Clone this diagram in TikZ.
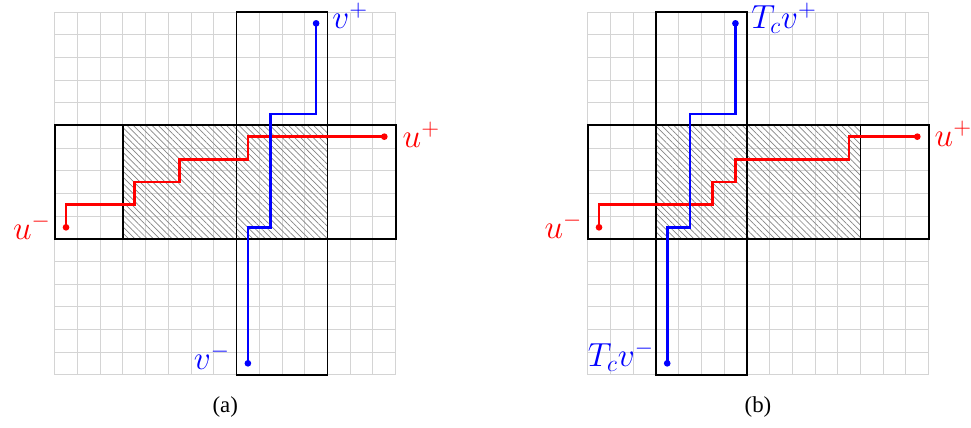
\documentclass[tikz,border=0pt]{standalone}
\usepackage{fix-cm}
\usepackage[no-math]{fontspec}
\setmainfont{Liberation Serif}
\usetikzlibrary{patterns.meta}
\tikzset{
  gridline/.style={draw=black!17, line width=0.55pt},
  box/.style={draw=black, line width=1pt},
  hatch/.style={pattern={Lines[angle=-45,distance=2.5pt,line width=0.4pt]}, pattern color=black!48},
  rpath/.style={draw=red, line width=1.5pt},
  bpath/.style={draw=blue, line width=1.5pt},
  rdot/.style={circle, fill=red, inner sep=0pt, minimum size=3.8pt},
  bdot/.style={circle, fill=blue, inner sep=0pt, minimum size=3.8pt},
  lab/.style={inner sep=0pt, font=\fontsize{19}{22}\selectfont},
  captext/.style={inner sep=0pt, anchor=base, font=\fontsize{13}{15}\selectfont}
}
\begin{document}
\begin{tikzpicture}
\useasboundingbox (0,0) rectangle (19.42,8.54);
% ---------- panel (a)
\begin{scope}[shift={(1.093cm,1.047cm)}, x=0.4547cm, y=0.4533cm]
  \foreach \i in {0,...,15} \draw[gridline] (\i,0) -- (\i,16);
  \foreach \j in {0,...,16} \draw[gridline] (0,\j) -- (15,\j);
  \draw[box, hatch] (3,6) rectangle (12,11);
  \draw[box] (0,6) rectangle (15,11);
  \draw[box] (8,0) rectangle (12,16);
  \node[rdot] (aum) at (0.5,6.5) {};
  \node[rdot] (aup) at (14.5,10.5) {};
  \node[bdot] (avp) at (11.5,15.5) {};
  \node[bdot] (avm) at (8.5,0.5) {};
  \draw[rpath] (aum.center) |- (3.5,7.5) |- (5.5,8.5) |- (8.5,9.5) |- (aup.center);
  \draw[bpath] (avp.center) |- (9.5,11.5) |- (8.5,6.5) -- (avm.center);
  \node[lab, text=blue, anchor=base west] (lvp) at ([xshift=0.32cm,yshift=-0.1cm]avp.center) {$v^+$};
  \node[lab, text=red, anchor=base west] (lup) at ([xshift=0.36cm,yshift=-0.22cm]aup.center) {$u^+$};
  \node[lab, text=red, anchor=base east] (lum) at ([xshift=-0.30cm,yshift=-0.24cm]aum.center) {$u^-$};
  \node[lab, text=blue, anchor=base east] (lvm) at ([xshift=-0.35cm,yshift=-0.12cm]avm.center) {$v^-$};
\end{scope}
% ---------- panel (b)
\begin{scope}[shift={(11.753cm,1.047cm)}, x=0.4547cm, y=0.4533cm]
  \foreach \i in {0,...,15} \draw[gridline] (\i,0) -- (\i,16);
  \foreach \j in {0,...,16} \draw[gridline] (0,\j) -- (15,\j);
  \draw[box, hatch] (3,6) rectangle (12,11);
  \draw[box] (0,6) rectangle (15,11);
  \draw[box] (3,0) rectangle (7,16);
  \node[rdot] (bum) at (0.5,6.5) {};
  \node[rdot] (bup) at (14.5,10.5) {};
  \node[bdot] (bvp) at (6.5,15.5) {};
  \node[bdot] (bvm) at (3.5,0.5) {};
  \draw[rpath] (bum.center) |- (5.5,7.5) |- (6.5,8.5) |- (11.5,9.5) |- (bup.center);
  \draw[bpath] (bvp.center) |- (4.5,11.5) |- (3.5,6.5) -- (bvm.center);
  \node[lab, text=blue, anchor=base west] (ltvp) at ([xshift=0.31cm,yshift=-0.1cm]bvp.center) {$T_cv^+$};
  \node[lab, text=red, anchor=base west] (lbup) at ([xshift=0.34cm,yshift=-0.20cm]bup.center) {$u^+$};
  \node[lab, text=red, anchor=base east] (lbum) at ([xshift=-0.33cm,yshift=-0.22cm]bum.center) {$u^-$};
  \node[lab, text=blue, anchor=base east] (ltvm) at ([xshift=-0.26cm,yshift=-0.07cm]bvm.center) {$T_cv^-$};
\end{scope}
% ---------- captions
\node[captext] (capa) at (4.504,0.29) {(a)};
\node[captext] (capb) at (15.16,0.29) {(b)};
\end{tikzpicture}
\end{document}
